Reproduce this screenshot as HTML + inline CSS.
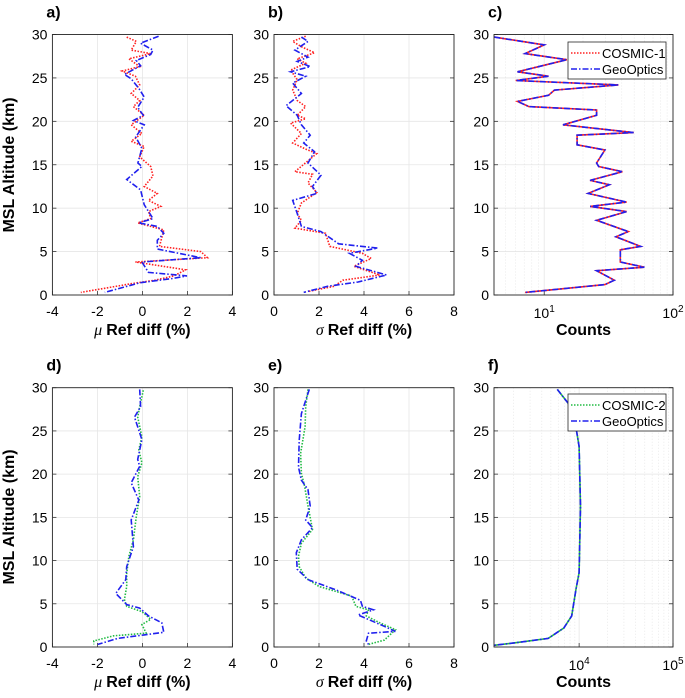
<!DOCTYPE html>
<html><head><meta charset="utf-8"><style>
html,body{margin:0;padding:0;background:#fff;}
svg{display:block;font-family:"Liberation Sans",Arial,sans-serif;}
</style></head><body>
<svg id="fig" width="685" height="698" viewBox="0 0 685 698" xmlns="http://www.w3.org/2000/svg"></svg>
<script>
// ---- data ----
const aBlueX=[0.72,-0.08,0.47,0.37,-0.27,-0.08,-0.8,-0.5,-0.16,0.08,-0.21,0.04,-0.4,0.08,-0.3,-0.02,-0.2,-0.02,-0.7,-0.08,0.08,0.47,-0.16,0.66,0.95,0.66,0.66,2.6,-0.02,0.27,1.98,1.34,-0.12,-1.67];
const aBlueY=[29.8,29,28.2,27.7,27,26.4,25.4,24.9,23.8,22.8,21.6,20.7,20.1,19.6,18.2,16.9,15.2,14.8,13.3,12.1,10.4,8.8,8.3,7.9,7.1,6.3,5.3,4.3,3.8,2.6,2.2,1.9,1.4,0.3];
const aRedX=[-0.7,-0.27,-0.5,0.37,-0.6,-0.12,-0.9,-0.31,-0.12,-0.5,-0.12,-0.4,0.08,-0.5,-0.02,-0.5,0.08,-0.12,0.37,0.47,0.08,0.66,0.27,0.82,0.27,0.37,-0.21,0.95,0.76,2.6,2.89,-0.31,1.92,1.4,0.56,-0.5,-2.74];
const aRedY=[29.7,29.2,28.2,27.8,27.2,26.3,25.8,25.2,24.2,23.2,22.4,21.7,20.7,19.6,18.6,17.7,17.1,15.9,14.8,13.7,12.5,11.7,10.9,10.2,9.6,8.8,8.3,7.5,5.6,5.0,4.3,3.8,2.9,2.2,1.7,1.3,0.3];
const bBlueX=[1.22,1.51,0.93,1.51,1.03,1.61,0.74,1.41,0.83,1.22,0.54,1.03,1.22,1.61,1.32,1.8,1.51,2.09,1.71,1.9,0.83,1.03,1.22,2.09,2.87,4.6,3.35,3.93,3.64,5.0,3.74,2.38,1.32];
const bBlueY=[29.7,29.2,28.2,27.4,26.9,26.3,25.7,25.2,24.4,23.2,21.8,20.7,19.6,18.4,17.5,16.5,15.2,13.8,12.5,11.7,10.9,9.4,7.9,7.3,5.9,5.4,4.8,4.0,3.3,2.3,1.5,1.0,0.3];
const bRedX=[1.41,0.83,1.22,1.8,1.03,1.41,0.74,1.03,0.83,1.03,1.41,1.03,1.41,0.74,1.22,0.83,1.41,1.9,0.93,1.71,1.51,1.9,1.22,1.03,1.22,0.93,2.29,2.48,3.93,4.32,3.55,4.7,3.06,2.67,1.51];
const bRedY=[29.8,29.2,28.6,27.9,27.2,26.7,25.9,24.8,23.6,22.4,21.7,20.7,20.3,19.8,18.6,17.5,16.8,16.3,14.2,13.9,12.9,11.8,10.6,9.4,8.6,7.7,7.1,5.6,4.8,4.2,3.3,2.3,1.7,1.0,0.4];
const cCounts=[4.1,10,7.1,15,6.2,10.8,6,37.7,12,10.8,6.2,7.6,25.5,25.5,14,49.5,18,18,29.6,25.5,26.5,40.5,22.7,32,21.9,43.6,22.7,43.6,25.5,45,36,56,39,39,60,25.5,35,29.6,7.1];
const cAlt=[29.7,28.8,27.8,27.1,25.7,25.2,24.7,24.2,23.6,23.0,22.3,21.7,21.3,20.7,19.6,18.7,18.4,17.3,16.7,15.2,14.8,14.2,13.2,12.7,11.7,10.7,10.2,9.6,8.6,7.3,6.7,5.6,5.2,3.8,3.2,2.8,1.7,1.2,0.3];
const dGreenX=[0.04,-0.12,-0.21,-0.02,-0.16,-0.02,-0.21,-0.12,-0.27,-0.4,-0.6,-0.7,-0.7,-0.8,-0.7,-0.02,0.37,-0.02,0.17,-1.28,-2.16,-2.16];
const dGreenY=[29.7,27.8,26.6,24.3,22.8,21.3,19.7,17.4,15.1,12.4,10.5,8.5,7.0,5.5,4.7,4.1,3.2,2.6,1.6,1.3,0.7,0.3];
const dBlueX=[-0.12,-0.08,-0.35,-0.02,-0.21,-0.12,-0.5,-0.16,-0.5,-0.4,-0.7,-0.74,-1.18,-0.7,-0.12,0.27,0.86,0.95,0.08,-1.1,-1.98];
const dBlueY=[29.8,27.8,26.6,24.0,21.7,20.9,19.0,17.0,14.7,11.6,9.3,7.8,6.2,4.9,4.5,3.6,2.8,1.7,1.4,1.0,0.3];
const eGreenX=[1.51,1.41,1.38,1.18,1.22,1.36,1.51,1.71,1.22,1.09,1.12,1.41,2.0,3.45,3.64,4.2,4.1,4.7,5.4,4.9,4.2];
const eGreenY=[29.8,27.8,25.5,22.4,20.1,18.6,16.3,13.6,12.0,10.5,9.3,8.0,7.0,5.9,4.7,4.3,3.6,2.8,2.0,0.8,0.3];
const eBlueX=[1.57,1.22,1.12,1.09,1.22,1.51,1.61,1.41,1.71,1.22,0.99,1.03,1.51,2.77,3.84,3.93,4.42,3.74,4.9,5.39,4.2,4.1,4.2];
const eBlueY=[29.8,27.0,23.9,20.8,19.3,18.2,16.3,14.7,13.8,12.4,10.9,9.0,7.8,6.6,5.4,4.7,4.3,3.7,2.4,1.8,1.6,0.7,0.3];
const fCounts=[5850,7650,8980,10000,10330,10000,9270,8330,6870,4680,2120,1240];
const fAlt=[29.8,28.2,26.3,23.2,16.3,8.6,6.7,3.6,2.2,1.0,0.5,0.2];
const yTicks=[0,5,10,15,20,25,30];
const muTicks=[-4,-2,0,2,4];
const sigTicks=[0,2,4,6,8];

// ---- drawing ----
const NS="http://www.w3.org/2000/svg";
const svg=document.getElementById('fig');
function mk(tag,attrs,parent){const e=document.createElementNS(NS,tag);for(const k in attrs)e.setAttribute(k,attrs[k]);(parent||svg).appendChild(e);return e;}
function txt(s,x,y,size,weight,anchor,parent){const t=mk('text',{x:x,y:y,'font-size':size,'font-weight':weight||'normal','text-anchor':anchor||'middle',fill:'#000'},parent);t.textContent=s;return t;}

function panel(cfg){
  const g=mk('g',{});
  
  
  const L=cfg.x0,R=cfg.x1,T=cfg.top,B=cfg.bot;
  const sy=v=>B-(v/30)*(B-T);
  let sx;
  if(cfg.log){const a=cfg.lmin,b=cfg.lmax;sx=v=>L+(Math.log10(v)-a)/(b-a)*(R-L);}
  else{sx=v=>L+(v-cfg.xmin)/(cfg.xmax-cfg.xmin)*(R-L);}
  // minor log grid
  if(cfg.log){
    for(let d=Math.floor(cfg.lmin);d<cfg.lmax;d++){for(let m=2;m<=9;m++){const v=m*Math.pow(10,d);const lv=Math.log10(v);if(lv<=cfg.lmin||lv>=cfg.lmax)continue;
      const l=mk('line',{x1:sx(v),x2:sx(v),y1:T,y2:B,stroke:'#e2e2e2','stroke-width':0.7,'stroke-dasharray':'1,2'},g);
      }}
  }
  // grid
  yTicks.forEach(v=>{const l=mk('line',{x1:L,x2:R,y1:sy(v),y2:sy(v),stroke:'#e6e6e6','stroke-width':0.8},g);
    
    mk('line',{x1:L,x2:L+4,y1:sy(v),y2:sy(v),stroke:'#333','stroke-width':0.8},g);
    mk('line',{x1:R,x2:R-4,y1:sy(v),y2:sy(v),stroke:'#333','stroke-width':0.8},g);
    const t=txt(String(v),L-5,sy(v)+5,14,'normal','end',g);
    });
  cfg.xt.forEach((v,i)=>{const x=sx(v);
    const l=mk('line',{x1:x,x2:x,y1:T,y2:B,stroke:'#e6e6e6','stroke-width':0.8},g);
    
    mk('line',{x1:x,x2:x,y1:B,y2:B-4,stroke:'#333','stroke-width':0.8},g);
    if(cfg.log){const t=mk('text',{x:x,y:B+23,'font-size':14,'text-anchor':'middle'},g);t.textContent='10';
      const s=mk('tspan',{dy:-6,'font-size':10},t);s.textContent=String(cfg.xtExp[i]);
      }
    else{const t=txt(String(v),x,B+21,14,'normal','middle',g);}
  });
  // series
  cfg.series.forEach(s=>{
    const pts=s.x.map((v,i)=>sx(v).toFixed(1)+','+sy(s.y[i]).toFixed(1)).join(' ');
    const p=mk('polyline',{points:pts,fill:'none',stroke:s.color,'stroke-width':1.6,'stroke-dasharray':s.dash},g);
    
  });
  const box=mk('rect',{x:L,y:T,width:R-L,height:B-T,fill:'none',stroke:'#262626','stroke-width':0.9},g);
  
  const pl=txt(cfg.label,L-6,cfg.top-17,16,'bold','start',g);
  
  const xl=mk('text',{x:(L+R)/2,y:B+40,'font-size':16,'font-weight':'bold','text-anchor':'middle'},g);
  if(cfg.sym){const s=mk('tspan',{'font-style':'italic','font-weight':'normal','font-family':'Liberation Serif,serif'},xl);s.textContent=cfg.sym+' ';
    const r=mk('tspan',{},xl);r.textContent=cfg.xlabel;}else{xl.textContent=cfg.xlabel;}
  
  if(cfg.legend){
    const lg=mk('g',{},g);
    const lx=568,ly=cfg.legend.y;
    mk('rect',{x:lx,y:ly,width:98,height:37,fill:'#fff',stroke:'#262626','stroke-width':0.8},lg);
    cfg.legend.items.forEach((it,i)=>{const yy=ly+11+i*16;
      const e=mk('g',{},lg);
      mk('line',{x1:lx+3,x2:lx+32,y1:yy,y2:yy,stroke:it.color,'stroke-width':1.6,'stroke-dasharray':it.dash},e);
      txt(it.text,lx+34,yy+5,13,'normal','start',e);});
  }
}
const RED='#ff2020',BLUE='#2020ee',GREEN='#22bb44';
const DOT='1.5,1.5',DD='6,2,1.5,2';
const rows=[{top:34.5,bot:295},{top:387.7,bot:647}];
panel({name:'panel-a',label:'a)',x0:52.4,x1:232.4,top:rows[0].top,bot:rows[0].bot,xmin:-4,xmax:4,xt:muTicks,sym:'\u03bc',xlabel:'Ref diff (%)',
  series:[{x:aRedX,y:aRedY,color:RED,dash:DOT,name:'cosmic1-mean-line'},{x:aBlueX,y:aBlueY,color:BLUE,dash:DD,name:'geooptics-mean-line'}]});
panel({name:'panel-b',label:'b)',x0:274,x1:454,top:rows[0].top,bot:rows[0].bot,xmin:0,xmax:8,xt:sigTicks,sym:'\u03c3',xlabel:'Ref diff (%)',
  series:[{x:bRedX,y:bRedY,color:RED,dash:DOT,name:'cosmic1-std-line'},{x:bBlueX,y:bBlueY,color:BLUE,dash:DD,name:'geooptics-std-line'}]});
panel({name:'panel-c',label:'c)',x0:494,x1:673,top:rows[0].top,bot:rows[0].bot,log:true,lmin:0.61,lmax:2,xt:[10,100],xtExp:[1,2],xlabel:'Counts',
  series:[{x:cCounts,y:cAlt,color:RED,dash:'',name:'cosmic1-counts-line'},{x:cCounts,y:cAlt,color:BLUE,dash:DD,name:'geooptics-counts-line'}],
  legend:{y:42,items:[{text:'COSMIC-1',color:RED,dash:DOT},{text:'GeoOptics',color:BLUE,dash:DD}]}});
panel({name:'panel-d',label:'d)',x0:52.4,x1:232.4,top:rows[1].top,bot:rows[1].bot,xmin:-4,xmax:4,xt:muTicks,sym:'\u03bc',xlabel:'Ref diff (%)',
  series:[{x:dGreenX,y:dGreenY,color:GREEN,dash:DOT,name:'cosmic2-mean-line'},{x:dBlueX,y:dBlueY,color:BLUE,dash:DD,name:'geooptics-mean-line'}]});
panel({name:'panel-e',label:'e)',x0:274,x1:454,top:rows[1].top,bot:rows[1].bot,xmin:0,xmax:8,xt:sigTicks,sym:'\u03c3',xlabel:'Ref diff (%)',
  series:[{x:eGreenX,y:eGreenY,color:GREEN,dash:DOT,name:'cosmic2-std-line'},{x:eBlueX,y:eBlueY,color:BLUE,dash:DD,name:'geooptics-std-line'}]});
panel({name:'panel-f',label:'f)',x0:494,x1:673,top:rows[1].top,bot:rows[1].bot,log:true,lmin:3.093,lmax:5,xt:[10000,100000],xtExp:[4,5],xlabel:'Counts',
  series:[{x:fCounts,y:fAlt,color:GREEN,dash:'',name:'cosmic2-counts-line'},{x:fCounts,y:fAlt,color:BLUE,dash:DD,name:'geooptics-counts-line'}],
  legend:{y:394,items:[{text:'COSMIC-2',color:GREEN,dash:DOT},{text:'GeoOptics',color:BLUE,dash:DD}]}});
[165,517].forEach(cy=>{const t=mk('text',{x:0,y:0,'font-size':16,'font-weight':'bold','text-anchor':'middle',transform:'translate(14,'+cy+') rotate(-90)'});
  t.textContent='MSL Altitude (km)';
  
  });
</script>
</body></html>
